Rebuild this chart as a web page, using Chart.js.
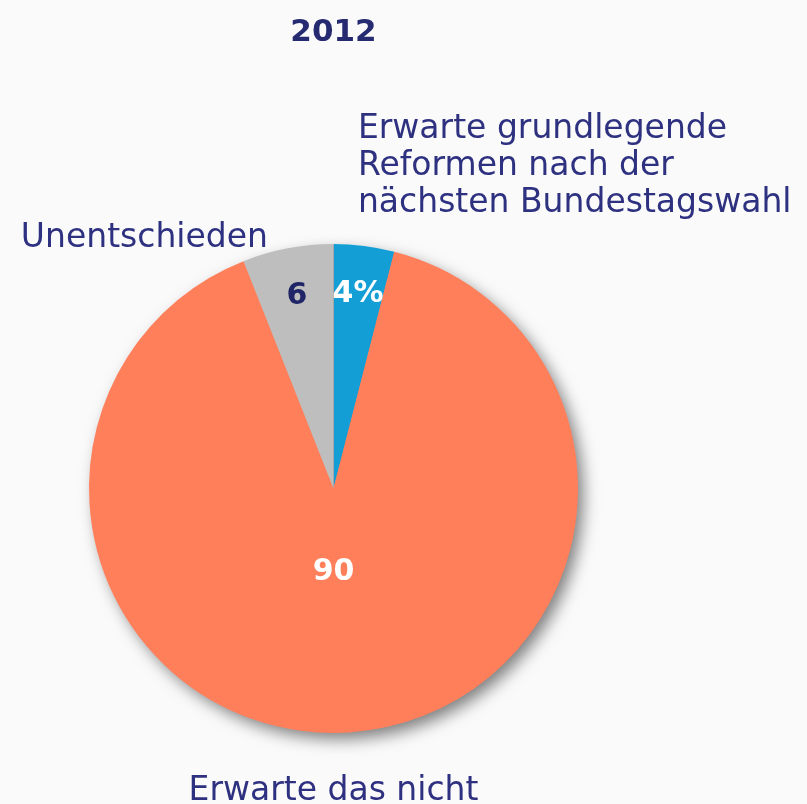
<!DOCTYPE html>
<html>
<head>
<meta charset="utf-8">
<script src="https://cdn.jsdelivr.net/npm/chart.js@4"></script>
<style>
  html, body { margin: 0; padding: 0; background: #fafafa; }
  canvas { display: block; }
</style>
</head>
<body>
<canvas id="chart" width="807" height="804"></canvas>
<script>
// Umfrage 2012: Erwartung grundlegender Reformen
var categories = [
  ['Erwarte grundlegende', 'Reformen nach der', 'nächsten Bundestagswahl'],
  ['Erwarte das nicht'],
  ['Unentschieden']
];
var values = [4, 90, 6];
var valueLabels = ['4%', '90', '6'];
var sliceColors = ['#139fd6', '#ff7f5b', '#bebebe'];
var titleText = '2012';

var navy = '#2e3180';

// where the value and category labels sit, in units of the pie radius
var labelStyle = [
  { valueR: 0.80, valueColor: '#ffffff', dx: 0.10, dy: -1.434, align: 'left' },
  { valueR: 0.345, valueColor: '#ffffff', dx: 0.0, dy: 1.274, align: 'center' },
  { valueR: 0.80, valueColor: '#1f2566', dx: -0.268, dy: -0.988, align: 'right' }
];

var pieLabels = {
  id: 'pieLabels',
  beforeDatasetsDraw: function (chart) {
    // soft drop shadow under the whole pie
    var arc = chart.getDatasetMeta(0).data[0];
    var ctx = chart.ctx;
    ctx.save();
    ctx.shadowColor = 'rgba(0,0,0,0.5)';
    ctx.shadowBlur = 16;
    ctx.shadowOffsetX = 6;
    ctx.shadowOffsetY = 7;
    ctx.fillStyle = sliceColors[1];
    ctx.beginPath();
    ctx.arc(arc.x, arc.y, arc.outerRadius - 1, 0, Math.PI * 2);
    ctx.fill();
    ctx.restore();
  },
  afterDatasetsDraw: function (chart) {
    var ctx = chart.ctx;
    var arcs = chart.getDatasetMeta(0).data;
    ctx.save();
    arcs.forEach(function (arc, i) {
      var s = labelStyle[i];
      var mid = (arc.startAngle + arc.endAngle) / 2;
      var r = arc.outerRadius;
      // value inside the slice
      ctx.font = 'bold 30px "DejaVu Sans"';
      ctx.fillStyle = s.valueColor;
      ctx.textAlign = 'center';
      ctx.textBaseline = 'middle';
      var vx = arc.x + Math.cos(mid) * r * s.valueR;
      if (i === 1) vx = arc.x;
      ctx.fillText(valueLabels[i], vx, arc.y + Math.sin(mid) * r * s.valueR);
      // category text outside the pie
      ctx.font = '33px "DejaVu Sans"';
      ctx.fillStyle = navy;
      ctx.textAlign = s.align;
      ctx.textBaseline = 'alphabetic';
      categories[i].forEach(function (line, k) {
        ctx.fillText(line, arc.x + s.dx * r, arc.y + s.dy * r + k * 37);
      });
    });
    ctx.restore();
  }
};

new Chart(document.getElementById('chart'), {
  type: 'pie',
  data: {
    labels: categories.map(function (c) { return c.join(' '); }),
    datasets: [{
      data: values,
      backgroundColor: sliceColors,
      borderWidth: 0
    }]
  },
  options: {
    responsive: false,
    animation: false,
    layout: { padding: { left: 89, right: 229, top: 0, bottom: 71 } },
    plugins: {
      legend: { display: false },
      tooltip: { enabled: false },
      title: {
        display: true,
        text: titleText,
        color: '#262a70',
        font: { family: 'DejaVu Sans', size: 31, weight: 'bold' },
        padding: { top: 14, bottom: 192.8 }
      }
    }
  },
  plugins: [pieLabels]
});
</script>
</body>
</html>
